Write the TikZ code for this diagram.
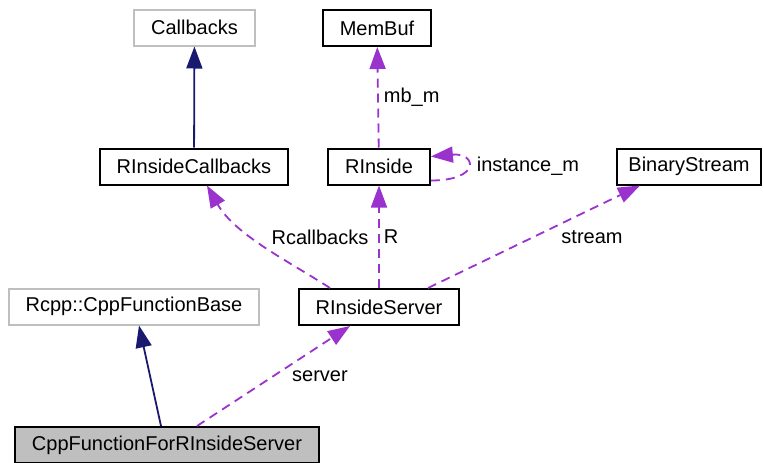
\documentclass[tikz,border=0pt]{standalone}
\usepackage{fontspec}
\setmainfont{Liberation Sans}
\usetikzlibrary{arrows.meta,positioning}
\definecolor{edgeblue}{HTML}{191970}
\definecolor{edgepurple}{HTML}{9A32CD}
\definecolor{boxgray}{HTML}{BFBFBF}
\tikzset{
  cls/.style={draw=black,line width=2pt,inner xsep=17pt,inner ysep=0pt,minimum height=36pt,font=\fontsize{20}{24}\selectfont},
  extcls/.style={cls,draw=boxgray},
  focus/.style={cls,fill=boxgray},
  inherit/.style={draw=edgeblue,line width=1.8pt,-{Triangle[length=22pt,width=16pt]}},
  usage/.style={draw=edgepurple,line width=1.8pt,dash pattern=on 9pt off 6pt,-{Triangle[length=22pt,width=16pt]}},
  lbl/.style={font=\fontsize{20}{24}\selectfont,inner sep=1pt}
}
\begin{document}
\begin{tikzpicture}[x=1pt,y=-1pt]
\useasboundingbox (0,0) rectangle (764,463);

\node[extcls] (Callbacks) at (194.5,27.5) {Callbacks};
\node[cls] (MemBuf) at (377,28) {MemBuf};
\node[cls] (RInsideCallbacks) at (194,166.5) {RInsideCallbacks};
\node[cls] (RInside) at (379,166.5) {RInside};
\node[cls,inner xsep=11pt] (BinaryStream) at (689,166.5) {BinaryStream};
\node[extcls] (CppFunctionBase) at (134,306.5) {Rcpp::CppFunctionBase};
\node[cls] (RInsideServer) at (379,307) {RInsideServer};
\node[focus] (CppFunctionForRInsideServer) at (167,445) {CppFunctionForRInsideServer};

% inheritance
\draw[inherit] (RInsideCallbacks) -- (Callbacks);
\draw[inherit] (CppFunctionForRInsideServer.north -| 161,0) -- (CppFunctionBase.south -| 139,0);

% usage
\draw[usage] (RInside) -- node[lbl,right=4pt] {mb\_m} (MemBuf);
\draw[usage] ([yshift=-14pt]RInside.east) .. controls +(50,0) and +(46,-4) .. ([yshift=10pt]RInside.east);
\node[lbl] (instance) at (528,166) {instance\_m};
\draw[usage] (RInsideServer.north -| 330,0) .. controls (290,262) and (235,235) .. (RInsideCallbacks.south -| 207,0);
\node[lbl] (rcallbacks) at (320,237) {Rcallbacks};
\draw[usage] (RInsideServer) -- node[lbl,right=3pt] {R} (RInside);
\draw[usage] (RInsideServer.north -| 428,0) -- (BinaryStream.south -| 640,0);
\node[lbl] (stream) at (592,237) {stream};
\draw[usage] (CppFunctionForRInsideServer.north -| 197,0) -- (RInsideServer.south -| 350,0);
\node[lbl] (server) at (320,376) {server};
\end{tikzpicture}
\end{document}
